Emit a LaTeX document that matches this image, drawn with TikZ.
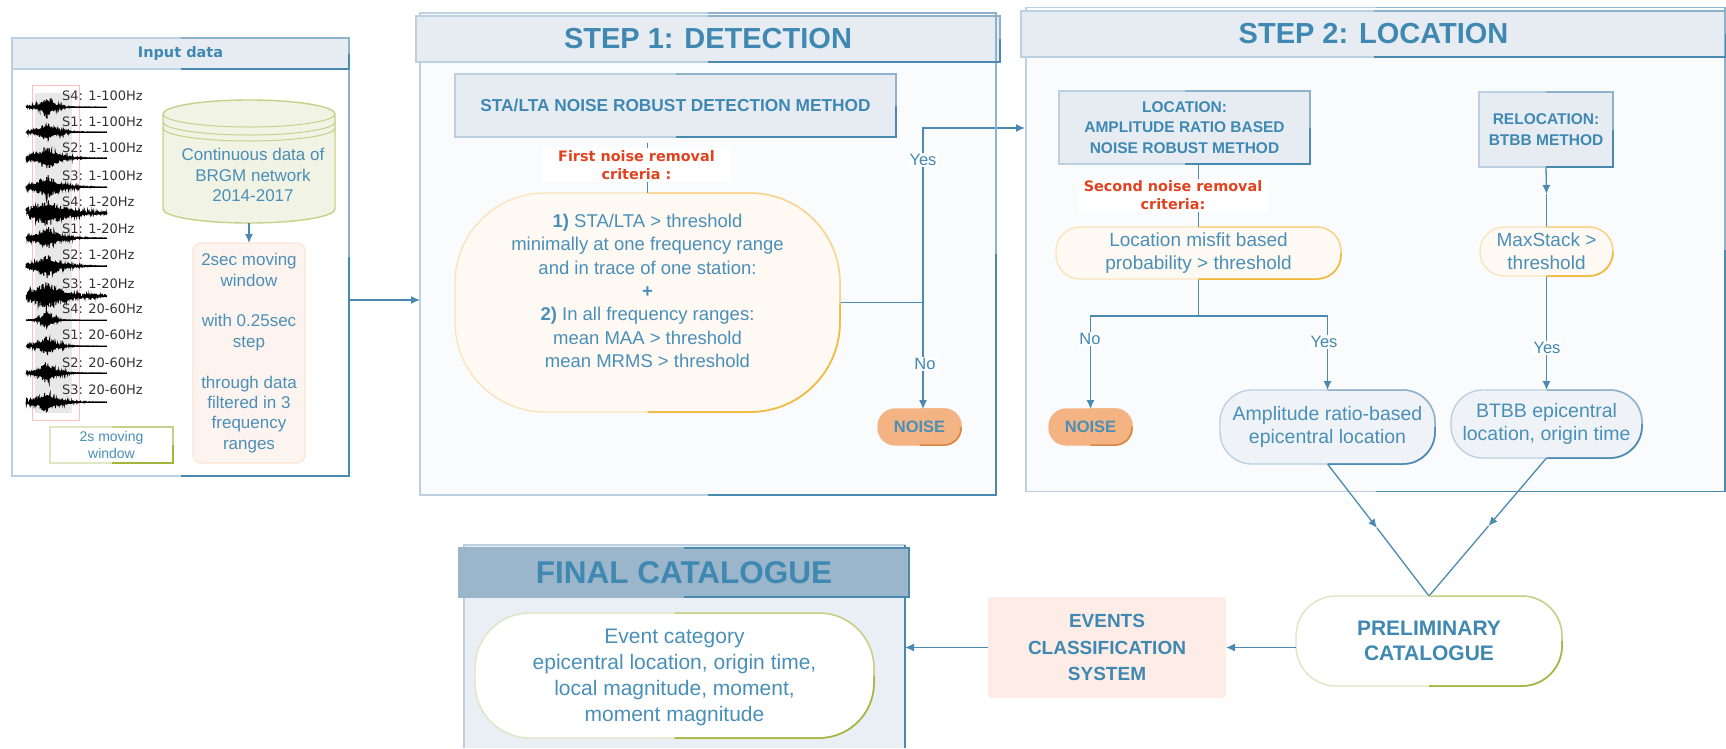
\documentclass[tikz,border=0pt]{standalone}
\usepackage{fontspec}
\setmainfont{Liberation Sans}
\newfontfamily\labelfont{DejaVu Sans}
\usepackage{xcolor}
\usepackage{tikz}
\usetikzlibrary{arrows.meta}

\definecolor{textblue}{HTML}{4A8FB8}
\definecolor{headblue}{HTML}{3F88B2}
\definecolor{edgelight}{HTML}{BCD0E2}
\definecolor{edgemid}{HTML}{8FB2CC}
\definecolor{edgedark}{HTML}{4A8AB0}
\definecolor{headfill}{HTML}{E7ECF3}
\definecolor{panelfill}{HTML}{F9FBFD}
\definecolor{amberfill}{HTML}{FEF9F3}
\definecolor{amberlight}{HTML}{FBE3BE}
\definecolor{ambermid}{HTML}{F8D48C}
\definecolor{amberdark}{HTML}{F3B93A}
\definecolor{olivefill}{HTML}{F1F3E4}
\definecolor{olivelight}{HTML}{E0E5C2}
\definecolor{olivemid}{HTML}{C6D08A}
\definecolor{olivedark}{HTML}{A3B53D}
\definecolor{beanblue}{HTML}{EFF3F7}
\definecolor{noisefill}{HTML}{F4B383}
\definecolor{noisedark}{HTML}{D9853F}
\definecolor{peachfill}{HTML}{FEF4EF}
\definecolor{peachedge}{HTML}{FCE4D6}
\definecolor{eventfill}{HTML}{FDEDE6}
\definecolor{finalfill}{HTML}{E9EFF4}
\definecolor{finalhead}{HTML}{9BB5CB}
\definecolor{criteria}{HTML}{E0431F}

\tikzset{
	base/.style={outer sep=0pt, inner sep=0pt, align=center, text=textblue},
	panel/.style={base, draw=edgelight, fill=panelfill, line width=1.5pt},
	headbar/.style={base, draw=edgelight, fill=headfill, line width=1.5pt, text=headblue, font=\bfseries\fontsize{29}{34}\selectfont},
	method/.style={base, draw=edgelight, fill=headfill, line width=1.5pt, text=headblue, font=\bfseries\fontsize{15.5}{20.5}\selectfont},
	amberbean/.style={base, draw=amberlight, fill=amberfill, line width=1.4pt, font=\fontsize{19}{23.3}\selectfont},
	bluebean/.style={base, draw=edgelight, fill=beanblue, line width=1.4pt, font=\fontsize{19.5}{23.8}\selectfont},
	olivebean/.style={base, draw=olivelight, fill=white, line width=1.4pt, font=\fontsize{21}{26}\selectfont},
	noisebox/.style={base, draw=noisefill, fill=noisefill, rounded corners=17pt, minimum width=83pt, minimum height=36pt, line width=1.2pt, font=\bfseries\fontsize{16.5}{20}\selectfont},
	criterion/.style={base, fill=white, text=criteria, font=\labelfont\bfseries\fontsize{14.4}{18}\selectfont},
	answer/.style={base, fill=white, inner sep=1.5pt, text=headblue, font=\fontsize{16.5}{20}\selectfont},
	link/.style={draw=edgedark, line width=1.3pt},
	flow/.style={link, -{Latex[length=9pt,width=8pt]}},
	trace/.style={black, line width=1pt},
	tracelabel/.style={base, anchor=west, text=black!80, font=\labelfont\fontsize{13}{16}\selectfont}
}

% darker right hand side of a border
\newcommand{\edgetone}[4]{
	\draw[#2, line width=1.5pt, rounded corners=#4] (#1.south) -| (#1.north east) -- (#1.north);
	\draw[#3, line width=1.5pt, rounded corners=#4] (#1.south) -| (#1.east);
}

\begin{document}
\begin{tikzpicture}[x=1pt, y=-1pt]
	\useasboundingbox (0,0) rectangle (1726,748);
	\pgfmathsetseed{1234}

	% input data
	\node[panel, fill=white, minimum width=337pt, minimum height=438pt] (input) at (180.5,257) {};
	\node[headbar, minimum width=337pt, minimum height=31pt, font=\labelfont\bfseries\fontsize{14.5}{18}\selectfont] (inputhead) at (180.5,53.5) {Input data};
	\fill[black!9] (35,93) rectangle (72,413);
	\draw[red!25, line width=1pt] (32,85) rectangle (79,420);
	\foreach \ty/\amp/\wide in {107/13/7, 132/12/9, 158/14/11, 187/13/13, 213/14/22, 238/13/12, 266/13/13, 296/15/20, 320/13/5, 346/12/8, 373/13/9, 402/13/11}
	{
		\draw[trace] plot[domain=26:107, samples=320] (\x,{\ty+\amp*rand*exp(-abs(\x-47)/\wide)});
		\fill[black] plot[domain=30:80, samples=30] (\x,{\ty-0.55*\amp*exp(-abs(\x-47)/\wide)}) -- plot[domain=80:30, samples=30] (\x,{\ty+0.55*\amp*exp(-abs(\x-47)/\wide)}) -- cycle;
		\draw[trace] (26,\ty) -- (107,\ty);
	}
	\foreach \ly/\lab [count=\i] in {96/S4: 1-100Hz, 122/S1: 1-100Hz, 148/S2: 1-100Hz, 176/S3: 1-100Hz, 202/S4: 1-20Hz, 229/S1: 1-20Hz, 255/S2: 1-20Hz, 284/S3: 1-20Hz, 309/S4: 20-60Hz, 335/S1: 20-60Hz, 363/S2: 20-60Hz, 390/S3: 20-60Hz}
		\node[tracelabel] (lab\i) at (62,\ly) {\lab};
	\node[base, draw=olivelight, fill=white, line width=1.4pt, minimum width=123pt, minimum height=36pt, font=\fontsize{14}{17}\selectfont] (window) at (111.5,445) {2s moving\\window};
	\filldraw[draw=olivemid, fill=olivefill, line width=1.4pt] (163,114) -- (163,209) arc[start angle=180, end angle=360, x radius=86pt, y radius=14pt] -- (335,114) arc[start angle=0, end angle=180, x radius=86pt, y radius=14pt] -- cycle;
	\foreach \cy in {114,122,128}
		\draw[olivemid, line width=1pt] (163,\cy) arc[start angle=180, end angle=360, x radius=86pt, y radius=13pt];
	\node[base, minimum width=172pt, minimum height=123pt] (db) at (249,161.5) {};
	\node[base, font=\fontsize{17}{20.5}\selectfont] (dbtext) at (253,175) {Continuous data of\\BRGM network\\2014-2017};
	\node[base, draw=peachedge, fill=peachfill, rounded corners=8pt, line width=1.2pt, minimum width=112pt, minimum height=220pt, font=\fontsize{17}{20.4}\selectfont] (moving) at (249,353) {2sec moving\\window\\[20.4pt]with 0.25sec\\step\\[20.4pt]through data\\filtered in 3\\frequency\\ranges};
	\draw[flow] (db.south) -- (moving.north);

	% step 1
	\node[panel, minimum width=576pt, minimum height=482pt] (stepone) at (708,254) {};
	\node[headbar, minimum width=584pt, minimum height=46pt] (stepinehead) at (708,39) {STEP 1: DETECTION};
	\node[method, minimum width=441pt, minimum height=63pt, font=\bfseries\fontsize{17.3}{20}\selectfont] (stalta) at (675.5,105.5) {STA/LTA NOISE ROBUST DETECTION METHOD};
	\node[amberbean, rounded corners=90pt, minimum width=385pt, minimum height=219pt, font=\fontsize{18.5}{23.4}\selectfont] (criteriaone) at (647.5,302.5) {\textbf{1)} STA/LTA > threshold\\minimally at one frequency range\\and in trace of one station:\\\textbf{+}\\\textbf{2)} In all frequency ranges:\\mean MAA > threshold\\mean MRMS > threshold\\[0.1pt]};
	\draw[link] (criteriaone.north |- stalta.south) ++(0,6) -- (criteriaone.north);
	\node[criterion, minimum width=189pt, minimum height=34pt] (firstnoise) at (636.5,165) {First noise removal\\criteria :};
	\node[noisebox] (noiseone) at (919.5,427) {NOISE};
	\coordinate (split) at (923,302.5);
	\coordinate (inflow) at (380,300);
	\coordinate (gate) at (1025,128);
	\draw[flow] (input.east |- inflow) -- (stepone.west |- inflow);
	\draw[link] (criteriaone.east) -- (split);
	\draw[flow] (split) |- (gate);
	\draw[flow] (split) -- (split |- noiseone.north);
	\node[answer] (yesone) at (923,160) {Yes};
	\node[answer] (noone) at (925,364) {No};

	% step 2
	\node[panel, minimum width=699pt, minimum height=484pt] (steptwo) at (1375.5,249.5) {};
	\node[headbar, minimum width=705pt, minimum height=46pt] (steptwohead) at (1373.5,34) {STEP 2: LOCATION};
	\node[method, minimum width=251pt, minimum height=73pt] (location) at (1184.5,127.5) {LOCATION:\\AMPLITUDE RATIO BASED\\NOISE ROBUST METHOD};
	\node[method, minimum width=134pt, minimum height=75pt] (relocation) at (1546,129.5) {RELOCATION:\\BTBB METHOD};
	\node[amberbean, rounded corners=24pt, minimum width=285pt, minimum height=52pt] (misfit) at (1198.5,253) {Location misfit based\\probability > threshold};
	\node[amberbean, rounded corners=24pt, minimum width=133pt, minimum height=49pt] (maxstack) at (1546.5,251.5) {MaxStack >\\threshold};
	\node[noisebox] (noisetwo) at (1090.5,427) {NOISE};
	\node[bluebean, rounded corners=32pt, minimum width=215pt, minimum height=74pt] (ampbean) at (1327.5,427) {Amplitude ratio-based\\epicentral location};
	\node[bluebean, rounded corners=32pt, minimum width=191pt, minimum height=68pt] (btbb) at (1546.5,424) {BTBB epicentral\\location, origin time};
	\coordinate (fork) at (1198.5,316);
	\coordinate (midstack) at (1546.5,194);
	\draw[link] (misfit.north |- location.south) -- (misfit.north);
	\node[criterion, minimum width=190pt, minimum height=33pt] (secondnoise) at (1173,195.5) {Second noise removal\\criteria:};
	\draw[flow] (relocation.south) -- (midstack);
	\draw[link] (midstack) -- (maxstack.north);
	\draw[flow] (maxstack.south) -- (btbb.north);
	\draw[link] (misfit.south) -- (fork);
	\draw[flow] (fork) -| (noisetwo.north);
	\draw[flow] (fork) -| (ampbean.north);
	\node[answer] (notwo) at (1090,339) {No};
	\node[answer] (yestwo) at (1324,342) {Yes};
	\node[answer] (yesthree) at (1547,348) {Yes};

	% catalogues
	\node[base, fill=finalfill, minimum width=441pt, minimum height=203pt] (final) at (684.5,646.5) {};
	\draw[edgelight, line width=1.5pt] (final.south west) |- (final.north east);
	\draw[edgedark, line width=1.5pt] (final.north east) -- (final.south east);
	\node[headbar, draw=finalhead, fill=finalhead, minimum width=450pt, minimum height=49pt, font=\bfseries\fontsize{31.5}{36}\selectfont] (finalbar) at (684,572.5) {FINAL CATALOGUE};
	\node[olivebean, rounded corners=55pt, minimum width=399pt, minimum height=125pt, text depth=0pt] (content) at (674.5,675.5) {Event category\\epicentral location, origin time,\\local magnitude, moment,\\moment magnitude};
	\node[base, fill=eventfill, rounded corners=3pt, minimum width=238pt, minimum height=101pt, text=headblue, font=\bfseries\fontsize{19}{26.5}\selectfont] (events) at (1107,647.5) {EVENTS\\CLASSIFICATION\\SYSTEM};
	\node[olivebean, rounded corners=40pt, minimum width=266pt, minimum height=90pt, text=headblue, font=\bfseries\fontsize{21}{25.5}\selectfont] (prelim) at (1429,641) {PRELIMINARY\\CATALOGUE};
	\coordinate (midamp) at (1377,528);
	\coordinate (midbtbb) at (1488.5,526);
	\draw[flow] (ampbean.south) -- (midamp);
	\draw[link] (midamp) -- (prelim.north);
	\draw[flow] (btbb.south) -- (midbtbb);
	\draw[link] (midbtbb) -- (prelim.north);
	\draw[flow] (prelim.west |- events.east) -- (events.east);
	\draw[flow] (events.west) -- (final.east |- events.west);

	% border tones
	\foreach \n in {input,inputhead,stepone,stepinehead,stalta,steptwo,steptwohead,location,relocation}
		\edgetone{\n}{edgemid}{edgedark}{0pt};
	\edgetone{window}{olivemid}{olivedark}{0pt};
	\edgetone{finalbar}{edgedark}{edgedark}{0pt};
	\edgetone{criteriaone}{ambermid}{amberdark}{90pt};
	\edgetone{misfit}{ambermid}{amberdark}{24pt};
	\edgetone{maxstack}{ambermid}{amberdark}{24pt};
	\edgetone{ampbean}{edgemid}{edgedark}{32pt};
	\edgetone{btbb}{edgemid}{edgedark}{32pt};
	\edgetone{content}{olivemid}{olivedark}{55pt};
	\edgetone{prelim}{olivemid}{olivedark}{40pt};
	\edgetone{noiseone}{noisefill}{noisedark}{17pt};
	\edgetone{noisetwo}{noisefill}{noisedark}{17pt};
\end{tikzpicture}
\end{document}
